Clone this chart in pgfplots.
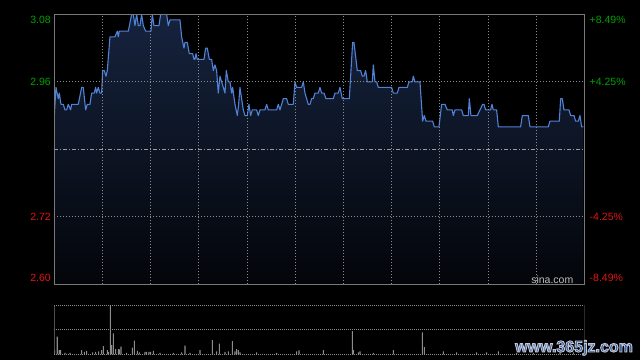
\documentclass[border=0pt]{standalone}
\usepackage{fontspec}
\setmainfont{Liberation Sans}
\usepackage{pgfplots}
\usepackage{pgfplotstable}
\pgfplotsset{compat=1.18}
\definecolor{upgreen}{RGB}{0,160,0}
\definecolor{downred}{RGB}{225,20,20}
\definecolor{pline}{RGB}{80,130,215}
\definecolor{gridgray}{RGB}{140,140,140}
\definecolor{framegray}{RGB}{120,120,120}
\definecolor{volgray}{RGB}{140,140,140}
\definecolor{filltop}{RGB}{22,35,62}
\definecolor{fillbot}{RGB}{3,5,9}
\definecolor{wmblue}{RGB}{40,85,155}

\pgfplotstableread{
x y
163 2.90
168 2.95
175 2.93
178 2.94
183 2.92
190 2.92
195 2.91
200 2.91
205 2.92
212 2.91
215 2.92
235 2.92
245 2.95
250 2.95
257 2.91
262 2.92
270 2.92
275 2.94
283 2.94
287 2.95
290 2.94
295 2.95
300 2.94
305 2.94
308 2.98
313 2.98
318 2.97
322 2.98
330 3.04
345 3.04
352 3.05
355 3.04
358 3.05
385 3.05
395 3.08
400 3.08
405 3.06
410 3.08
415 3.06
420 3.06
425 3.08
430 3.06
437 3.05
453 3.05
457 3.08
462 3.06
477 3.06
482 3.08
500 3.08
505 3.06
510 3.07
540 3.07
545 3.04
552 3.02
555 3.03
562 3.03
568 3.01
578 3.01
582 3.00
585 3.00
588 3.01
592 3.00
612 3.00
617 3.02
622 3.02
628 3.00
635 3.00
640 2.98
645 2.99
650 2.98
655 2.94
660 2.97
665 2.96
670 2.95
675 2.94
679 2.98
685 2.96
690 2.96
695 2.94
698 2.95
705 2.92
712 2.90
716 2.92
720 2.95
725 2.93
730 2.91
735 2.90
742 2.90
747 2.92
752 2.90
757 2.91
770 2.91
775 2.90
780 2.91
795 2.91
800 2.92
805 2.91
830 2.91
835 2.92
840 2.91
850 2.93
860 2.93
865 2.92
880 2.92
885 2.96
890 2.95
905 2.95
910 2.96
915 2.94
920 2.93
925 2.92
930 2.92
935 2.93
940 2.93
945 2.94
955 2.94
960 2.95
965 2.94
972 2.94
978 2.93
1000 2.93
1005 2.94
1015 2.94
1020 2.95
1027 2.93
1048 2.93
1058 3.03
1062 3.03
1072 2.98
1082 2.98
1087 2.97
1092 2.97
1097 2.98
1102 2.96
1117 2.96
1120 2.99
1125 2.96
1130 2.96
1135 2.95
1175 2.95
1180 2.94
1192 2.94
1197 2.95
1222 2.95
1227 2.96
1237 2.96
1240 2.97
1245 2.96
1260 2.96
1268 2.89
1273 2.90
1278 2.89
1298 2.89
1303 2.88
1317 2.88
1325 2.92
1335 2.92
1342 2.91
1357 2.91
1360 2.90
1365 2.91
1385 2.91
1390 2.90
1405 2.90
1408 2.93
1413 2.90
1432 2.90
1440 2.91
1448 2.92
1452 2.92
1457 2.91
1472 2.91
1476 2.92
1480 2.91
1490 2.91
1495 2.88
1562 2.88
1567 2.90
1585 2.90
1590 2.88
1645 2.88
1650 2.89
1678 2.89
1682 2.93
1687 2.93
1692 2.91
1707 2.91
1712 2.90
1722 2.90
1727 2.89
1735 2.89
1740 2.90
1745 2.88
1750 2.88
}\price

\pgfplotstableread{
x v
164 4.3
172 17.6
178 4.3
182 4.3
195 1.5
210 1.5
245 4.3
253 2.5
260 3.5
278 2
287 2.5
296 3
305 4.3
310 8.3
322 4.3
325 2.5
331 49.3
335 9.3
340 21
347 5.3
355 5.3
358 5
363 7.6
380 1.5
397 6.6
403 13.6
412 3.5
418 2
435 2.5
440 2.5
447 2.5
452 2.5
460 3.5
480 1.5
520 1.5
545 2
555 8.7
570 1.5
600 4.3
637 14.3
650 3
658 10.6
675 2.5
685 3
697 13.3
705 3
710 5.3
715 4.3
720 2
770 2
830 1.5
890 3
897 4
970 4.3
1057 23.3
1060 4.3
1075 2
1080 3
1120 1.5
1180 4.3
1267 22
1273 7.3
1330 3
1370 2
1430 2
1460 2
1495 3
1550 1.5
1600 1.5
1680 2
1720 2
}\vol

\begin{document}
\begin{tikzpicture}[x=1pt,y=1pt]
\useasboundingbox (0,0) rectangle (640,360);
\fill[black] (0,0) rectangle (640,360);

% price panel
\begin{axis}[
  at={(54.3pt,75.7pt)}, anchor=south west,
  scale only axis, width=530pt, height=270pt,
  xmin=163, xmax=1753, ymin=2.60, ymax=3.08,
  xtick={307.5,452.1,596.6,741.2,885.7,1030.3,1174.8,1319.4,1463.9,1608.5},
  ytick={2.96,2.72},
  xticklabels={}, yticklabels={},
  major tick length=0pt,
  grid=major,
  grid style={gridgray, line width=0.8pt, dash pattern=on 1pt off 2pt},
  axis line style={framegray, line width=1pt},
  axis on top,
]
\addplot[draw=none, top color=filltop, bottom color=fillbot]
  table[x=x,y=y] {\price} -- (axis cs:1750,2.60) -- (axis cs:163,2.60) -- cycle;
\addplot[gridgray!85, line width=0.8pt, dash pattern=on 4pt off 2pt on 1pt off 2pt]
  coordinates {(163,2.839) (1753,2.839)};
\addplot[pline, line width=1.1pt, line join=round] table[x=x,y=y] {\price};
\end{axis}

% volume panel
\begin{axis}[
  at={(54.3pt,5.7pt)}, anchor=south west,
  scale only axis, width=530pt, height=49.3pt,
  xmin=163, xmax=1753, ymin=0, ymax=49.3,
  xtick=\empty, ytick={0,24.5,49.3},
  yticklabels={},
  major tick length=0pt,
  ymajorgrids,
  grid style={gridgray, line width=1pt, dash pattern=on 1pt off 1pt},
  axis line style={draw=none},
]
\addplot[ybar, bar width=1.1pt, fill=volgray, draw=none] table[x=x,y=v] {\vol};
\draw[framegray, line width=1pt] (rel axis cs:0,0) -- (rel axis cs:0,1);
\draw[framegray, line width=1pt] (rel axis cs:1,0) -- (rel axis cs:1,1);
\end{axis}

% axis labels
\begin{scope}[every node/.style={inner sep=0pt, font=\fontsize{10.5}{12}\selectfont}]
\node[anchor=east, text=upgreen] at (51,340) {3.08};
\node[anchor=east, text=upgreen] at (51,278.3) {2.96};
\node[anchor=east, text=downred] at (51,143.3) {2.72};
\node[anchor=east, text=downred] at (51,81.7) {2.60};
\node[anchor=west, text=upgreen] at (589.5,340) {+8.49\%};
\node[anchor=west, text=upgreen] at (589.5,278.3) {+4.25\%};
\node[anchor=west, text=downred] at (589.5,143.3) {-4.25\%};
\node[anchor=west, text=downred] at (589.5,81.7) {-8.49\%};
\node[anchor=east, text=white!75!black] at (573.5,80.7) {sina.com};
\end{scope}

% watermark (blue text with a light outline)
\node[inner sep=0pt, anchor=base west, font=\bfseries\fontsize{16}{17}\selectfont]
  at (515,8) {\color{wmblue}\special{pdf:literal direct 2 Tr 0.9 w 0.76 0.78 0.84 RG}www.365jz.com\special{pdf:literal direct 0 Tr}};
\end{tikzpicture}
\end{document}
